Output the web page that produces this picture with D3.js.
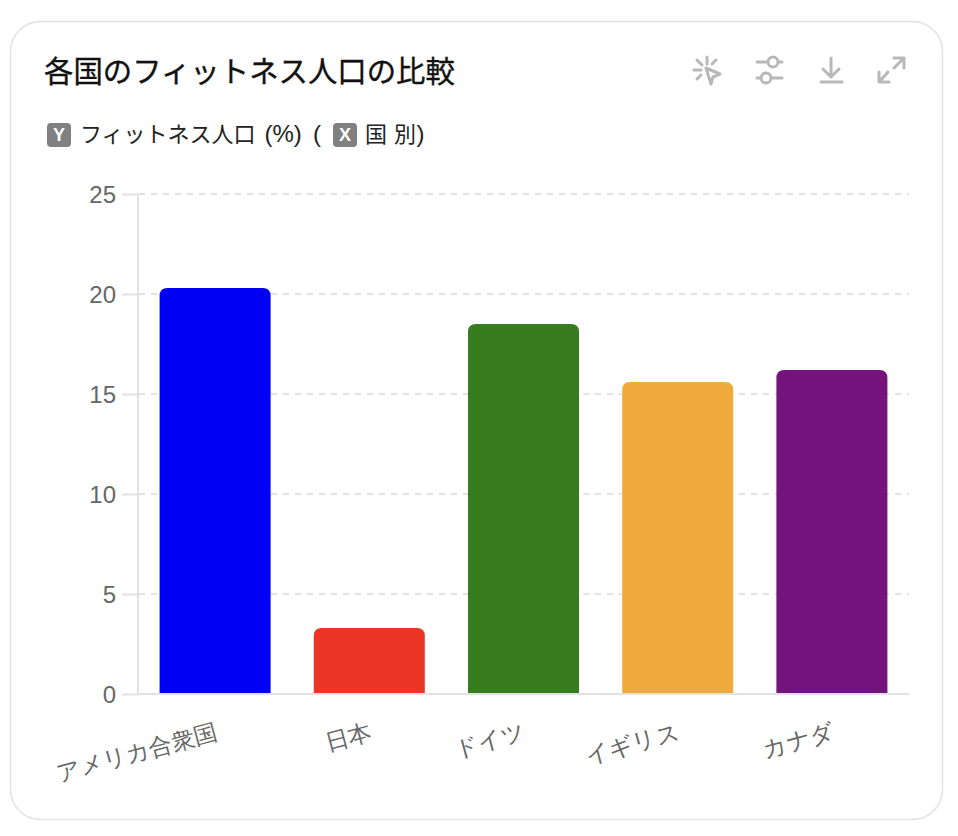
<!DOCTYPE html>
<html lang="ja"><head><meta charset="utf-8">
<script src="https://cdn.jsdelivr.net/npm/d3@7"></script>
<style>
html,body{margin:0;padding:0;background:#fff;}
svg{display:block;font-family:"Liberation Sans","Noto Sans CJK JP",sans-serif;}
</style></head><body><div id="chart"></div>
<script>
const countries = ["アメリカ合衆国","日本","ドイツ","イギリス","カナダ"];
const fitnessPct = [20.3,3.3,18.5,15.6,16.2];
const barColors = ["#0000f5","#ec3524","#377d20","#f1aa3c","#75137c"];
const yTicks = [0,5,10,15,20,25];
const chartTitle = "各国のフィットネス人口の比較";

const W=958,H=836;
const svg=d3.select("#chart").append("svg").attr("width",W).attr("height",H);
svg.append("rect").attr("x",10.5).attr("y",21.5).attr("width",932).attr("height",798).attr("rx",30)
  .attr("fill","#fff").attr("stroke","#e2e2e2").attr("stroke-width",1.5);
svg.append("text").attr("x",44).attr("y",82).attr("font-size",29.4).attr("font-weight",400)
  .attr("stroke","#111").attr("stroke-width",0.35).attr("fill","#111").text(chartTitle);

// subtitle
function badge(x,l){
  svg.append("rect").attr("x",x).attr("y",123).attr("width",24).attr("height",24).attr("rx",4).attr("fill","#808080");
  svg.append("text").attr("x",x+12).attr("y",141).attr("text-anchor","middle").attr("font-size",18).attr("font-weight",700).attr("fill","#fff").text(l);
}
badge(47,"Y"); badge(333,"X");
const sub=(x,t)=>svg.append("text").attr("x",x).attr("y",142).attr("font-size",22).attr("fill","#222").text(t);
sub(80,"フィットネス人口"); sub(264.5,"(%)").attr("font-size",24); sub(313,"(").attr("font-size",24); sub(365,"国"); sub(394,"別"); sub(416.5,")").attr("font-size",24);

const x=d3.scaleBand().domain(countries).range([138,909]).paddingInner(0.28).paddingOuter(0.14);
const y=d3.scaleLinear().domain([0,25]).range([694,194]);

// grid
svg.append("g").selectAll("line").data(yTicks.filter(d=>d>0)).join("line")
  .attr("x1",139).attr("x2",909).attr("y1",d=>y(d)).attr("y2",d=>y(d))
  .attr("stroke","#e2e2e2").attr("stroke-width",2).attr("stroke-dasharray","6 6");

// axes
const gy=svg.append("g").attr("transform","translate(138,0)")
  .call(d3.axisLeft(y).tickValues(yTicks).tickSize(16).tickPadding(4));
gy.select(".domain").attr("stroke","#e2e2e2").attr("stroke-width",2).attr("d","M0,194V694");
gy.selectAll(".tick line").attr("stroke","#e2e2e2").attr("stroke-width",2).attr("x1",0).attr("x2",-16);
gy.selectAll(".tick text").attr("font-family",null).attr("font-size",24).attr("fill","#666").attr("dy","0.36em").attr("x",-22);

// bars with rounded top
svg.append("g").selectAll("path").data(countries).join("path")
  .attr("fill",(d,i)=>barColors[i])
  .attr("d",(d,i)=>{
    const a=x(d),b=a+x.bandwidth(),t=y(fitnessPct[i]),r=8,z=y(0);
    return `M${a},${z}V${t+r}Q${a},${t} ${a+r},${t}H${b-r}Q${b},${t} ${b},${t+r}V${z}Z`;
  });

const gx=svg.append("g").attr("transform","translate(0,694)")
  .call(d3.axisBottom(x).tickSize(0).tickPadding(0));
gx.select(".domain").attr("stroke","#e2e2e2").attr("stroke-width",2).attr("d","M138,0H909");
gx.selectAll(".tick text").attr("font-family",null).attr("font-size",23.4).attr("fill","#666")
  .attr("text-anchor","end").attr("y",0).attr("dy",0)
  .attr("transform","translate(3,45) rotate(-15)");

// toolbar icons
const ic=svg.append("g").attr("fill","none").attr("stroke","#b8b8b8").attr("stroke-width",3).attr("stroke-linecap","round").attr("stroke-linejoin","round");
ic.append("path").attr("d","M707,57V64M697,60L702,65M716,60L712,64M694,70H701M697,79L701,75M706,68L720,74L713,77L711,84Z");
ic.append("path").attr("d","M757,62H766M780,62H782M757,78H760M772,78H782");
ic.append("circle").attr("cx",773).attr("cy",62).attr("r",5);
ic.append("circle").attr("cx",766).attr("cy",78).attr("r",5);
ic.append("path").attr("d","M831,58V76M823,69L831,77L839,69M821,82H842");
ic.append("path").attr("d","M894,68L903,59M894,58H904V68M888,72L880,81M879,72V82H889");
</script></body></html>
